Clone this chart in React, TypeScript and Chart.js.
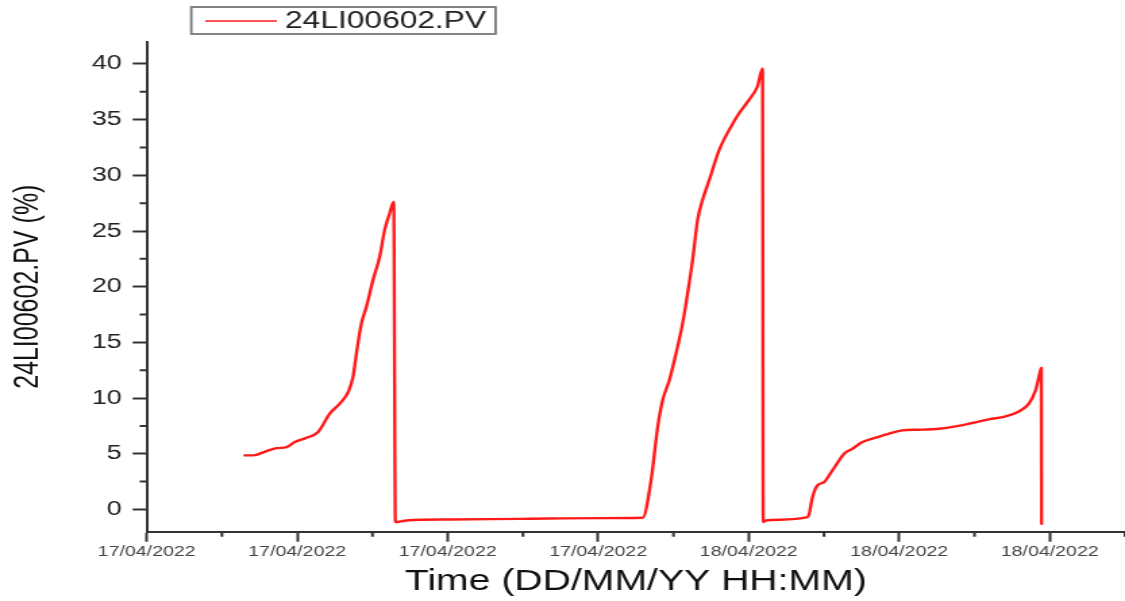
import React, { useEffect, useRef } from 'react';
import { Chart, registerables } from 'chart.js';

Chart.register(...registerables);

// ---- data (x: hours since 17/04/2022 08:00, y: level %) ----
const seriesLabel = '24LI00602.PV';
const timeHours = [
  2.609, 2.830, 3.185, 3.451, 3.716, 3.936, 4.247, 4.555, 4.865, 5.131, 5.351, 5.484, 5.574, 5.707, 5.839, 6.015, 6.193, 6.325, 6.458, 6.564,
  6.609, 6.723, 6.901, 8.051, 9.909, 12.032, 13.181,
  13.404, 13.580, 13.712, 13.890, 14.068, 14.243, 14.376, 14.509, 14.641, 14.774, 14.952, 15.217, 15.483, 15.748, 16.014, 16.234, 16.367,
  16.385, 16.457, 17.561,
  17.606, 17.694, 17.827, 18.004, 18.137, 18.315, 18.535, 18.755, 19.021, 19.376, 19.730, 20.083, 20.526, 21.057, 21.500, 21.941, 22.384, 22.827, 23.180, 23.446, 23.623, 23.756, 23.777,
  23.782,
];
const levelPct = [
  4.85, 4.85, 5.24, 5.5, 5.6, 6.05, 6.44, 6.95, 8.6, 9.5, 10.5, 11.9, 14.0, 16.7, 18.2, 20.6, 22.7, 25.1, 26.6, 27.6,
  -1.14, -1.1, -0.99, -0.9, -0.85, -0.78, -0.75,
  2.6, 7.4, 9.8, 11.6, 14.0, 16.7, 19.4, 22.4, 26.0, 27.8, 29.6, 32.3, 34.1, 35.6, 36.8, 38.0, 39.6,
  -1.14, -0.99, -0.69,
  -0.4, 1.1, 2.16, 2.45, 3.06, 3.96, 5.0, 5.45, 6.05, 6.44, 6.8, 7.1, 7.16, 7.25, 7.46, 7.76, 8.09, 8.36, 8.8, 9.5, 10.7, 12.5, 12.7,
  -1.29,
];
const xTickHours = [0, 4, 8, 12, 16, 20, 24];
const xTickLabels = ['17/04/2022', '17/04/2022', '17/04/2022', '17/04/2022', '18/04/2022', '18/04/2022', '18/04/2022'];
const xMinorHours = [2, 6, 10, 14, 18, 22, 26];
const yTicks = [0, 5, 10, 15, 20, 25, 30, 35, 40];
const yMinorTicks = [2.5, 7.5, 12.5, 17.5, 22.5, 27.5, 32.5, 37.5];
const xRange = [0, 26];
const yRange = [-2, 42];

const FONT = '"Liberation Sans", Arial, Helvetica, sans-serif';
const LOGICAL_W = 833;
const H = 601;

const minorTicksPlugin = {
  id: 'minorTicks',
  afterDraw(chart: any) {
    const { ctx, chartArea, scales } = chart;
    ctx.save();
    ctx.strokeStyle = '#333';
    ctx.lineWidth = 2;
    ctx.beginPath();
    xMinorHours.forEach((h) => {
      const px = scales.x.getPixelForValue(h);
      ctx.moveTo(px, chartArea.bottom);
      ctx.lineTo(px, chartArea.bottom + 5);
    });
    yMinorTicks.forEach((v) => {
      const py = scales.y.getPixelForValue(v);
      ctx.moveTo(chartArea.left, py);
      ctx.lineTo(chartArea.left - 5.2, py);
    });
    ctx.stroke();
    ctx.restore();
  },
};

const boxedLegendPlugin = {
  id: 'boxedLegend',
  afterDraw(chart: any) {
    const { ctx, chartArea } = chart;
    const ds = chart.data.datasets[0];
    const left = chartArea.left + 33;
    const top = 7;
    const h = 27;
    ctx.save();
    ctx.font = `23.5px ${FONT}`;
    const tw = ctx.measureText(ds.label).width;
    const lx1 = left + 10.4;
    const lx2 = lx1 + 53;
    const tx = lx2 + 6;
    const w = tx + tw + 7 - left;
    ctx.strokeStyle = '#777';
    ctx.lineWidth = 1.8;
    ctx.strokeRect(left, top, w, h);
    ctx.strokeStyle = ds.borderColor;
    ctx.lineWidth = 1.5;
    ctx.beginPath();
    ctx.moveTo(lx1, top + 14);
    ctx.lineTo(lx2, top + 14);
    ctx.stroke();
    ctx.fillStyle = '#222';
    ctx.textBaseline = 'middle';
    ctx.textAlign = 'left';
    ctx.fillText(ds.label, tx, top + h / 2 + 1);
    ctx.restore();
  },
};

export default function App() {
  const ref = useRef<HTMLCanvasElement | null>(null);

  useEffect(() => {
    document.body.style.margin = '0';
    const canvas = ref.current;
    if (!canvas) return;
    const points = timeHours.map((x, i) => ({ x, y: levelPct[i] }));
    const chart = new Chart(canvas, {
      type: 'line',
      data: {
        datasets: [
          {
            label: seriesLabel,
            data: points,
            borderColor: '#ff1a1a',
            backgroundColor: '#ff1a1a',
            borderWidth: 2.4,
            borderJoinStyle: 'round',
            borderCapStyle: 'round',
            cubicInterpolationMode: 'monotone',
            pointRadius: 0,
            fill: false,
          },
        ],
      },
      options: {
        responsive: false,
        animation: false,
        devicePixelRatio: 1,
        layout: { padding: { top: 41.7, left: 0, right: 0, bottom: 0 } },
        plugins: { legend: { display: false }, tooltip: { enabled: false } },
        scales: {
          x: {
            type: 'linear',
            min: xRange[0],
            max: xRange[1],
            afterBuildTicks: (s: any) => {
              s.ticks = xTickHours.map((v) => ({ value: v }));
            },
            afterFit: (s: any) => {
              s.height = H - 531.7;
            },
            grid: { drawOnChartArea: false, drawTicks: true, tickLength: 10, tickWidth: 2, tickColor: '#333' },
            border: { display: true, color: '#333', width: 2 },
            ticks: {
              autoSkip: false,
              maxRotation: 0,
              padding: 2,
              color: '#444',
              font: { family: FONT, size: 14.5 },
              callback: (v: any) => xTickLabels[xTickHours.indexOf(Number(v))] ?? '',
            },
            title: {
              display: true,
              text: 'Time (DD/MM/YY HH:MM)',
              color: '#111',
              font: { family: FONT, size: 29, lineHeight: 1 },
              padding: { top: 0, bottom: 4.5 },
            },
          },
          y: {
            type: 'linear',
            min: yRange[0],
            max: yRange[1],
            afterBuildTicks: (s: any) => {
              s.ticks = yTicks.map((v) => ({ value: v }));
            },
            afterFit: (s: any) => {
              s.width = 108.6;
            },
            grid: { drawOnChartArea: false, drawTicks: true, tickLength: 10.4, tickWidth: 2, tickColor: '#333' },
            border: { display: true, color: '#333', width: 2 },
            ticks: {
              padding: 8,
              color: '#222',
              font: { family: FONT, size: 20 },
              callback: (v: any) => String(v),
            },
            title: {
              display: true,
              text: '24LI00602.PV (%)',
              color: '#111',
              font: { family: FONT, size: 25, lineHeight: 1 },
              padding: { top: 8.2, bottom: 0 },
            },
          },
        },
      },
      plugins: [minorTicksPlugin, boxedLegendPlugin],
    });
    return () => chart.destroy();
  }, []);

  return (
    <canvas
      ref={ref}
      width={LOGICAL_W}
      height={H}
      style={{ width: '1125px', height: '601px', display: 'block' }}
    />
  );
}
